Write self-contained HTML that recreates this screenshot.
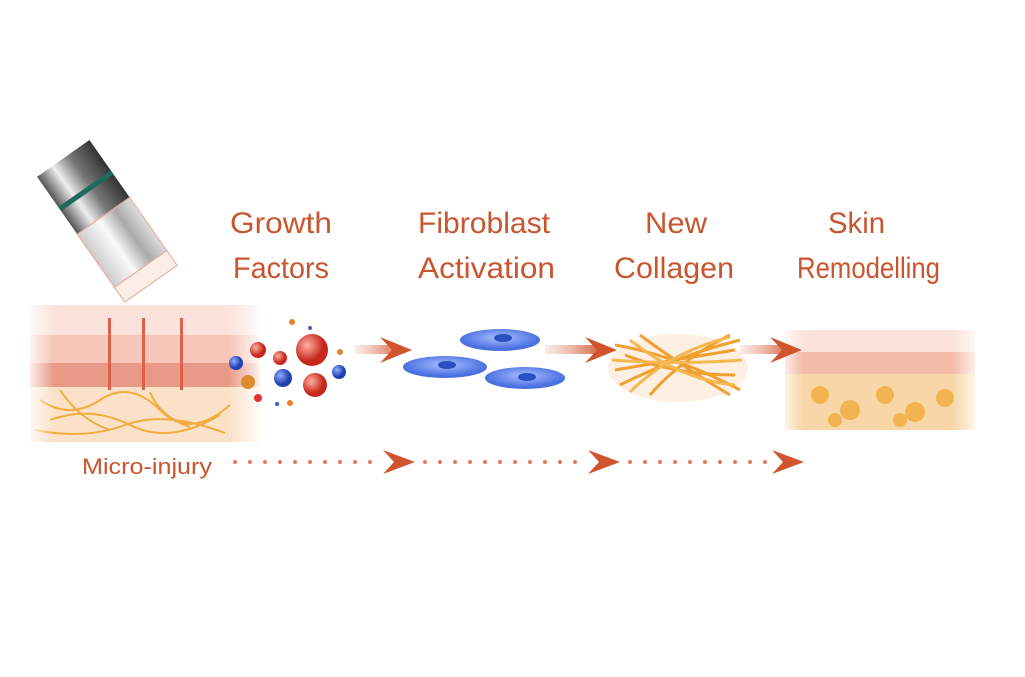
<!DOCTYPE html>
<html><head><meta charset="utf-8"><style>
html,body{margin:0;padding:0;background:#fff;}
svg{display:block;}
text{font-family:"Liberation Sans","DejaVu Sans",sans-serif;fill:#c9552f;}
</style></head><body>
<svg width="1025" height="677" viewBox="0 0 1025 677" xmlns="http://www.w3.org/2000/svg">
<defs>
<linearGradient id="fadeL" x1="0" x2="1"><stop offset="0" stop-color="#fff" stop-opacity="1"/><stop offset="0.12" stop-color="#fff" stop-opacity="0"/><stop offset="0.85" stop-color="#fff" stop-opacity="0"/><stop offset="1" stop-color="#fff" stop-opacity="1"/></linearGradient>
<linearGradient id="arr" x1="0" x2="1"><stop offset="0" stop-color="#e9a090" stop-opacity="0.2"/><stop offset="1" stop-color="#d4653f"/></linearGradient>
<linearGradient id="metal" x1="0" x2="1"><stop offset="0" stop-color="#555"/><stop offset="0.3" stop-color="#eee"/><stop offset="0.6" stop-color="#777"/><stop offset="1" stop-color="#333"/></linearGradient>
<linearGradient id="clear" x1="0" x2="1"><stop offset="0" stop-color="#ccc"/><stop offset="0.4" stop-color="#fafafa"/><stop offset="0.7" stop-color="#aaa"/><stop offset="1" stop-color="#ddd"/></linearGradient>
<radialGradient id="red" cx="0.35" cy="0.35"><stop offset="0" stop-color="#ffb0a0"/><stop offset="1" stop-color="#c8281c"/></radialGradient>
<radialGradient id="blue" cx="0.35" cy="0.35"><stop offset="0" stop-color="#8fb0ff"/><stop offset="1" stop-color="#1f3fb0"/></radialGradient>
<radialGradient id="cell" cx="0.5" cy="0.4"><stop offset="0" stop-color="#a8c0ff"/><stop offset="1" stop-color="#4a6fe0"/></radialGradient>
</defs>

<!-- device -->
<g transform="translate(112,228) rotate(-35)">
<rect x="-32" y="-85" width="64" height="70" fill="url(#metal)"/>
<rect x="-32" y="-48" width="64" height="5" fill="#1f6a5a"/>
<rect x="-32" y="-15" width="64" height="65" fill="url(#clear)" stroke="#e6a898" stroke-width="1"/>
<rect x="-32" y="50" width="64" height="18" fill="#fbeee9" stroke="#e6a898"/>
</g>

<!-- left skin -->
<g>
<rect x="30" y="305" width="230" height="30" fill="#fbe3dc"/>
<rect x="30" y="335" width="230" height="28" fill="#f6c6b8"/>
<rect x="30" y="363" width="230" height="24" fill="#e99a86"/>
<rect x="30" y="387" width="230" height="55" fill="#fbe1c8"/>
<path d="M40 400 q30 20 60 0 t60 10 t70 -5 M50 420 q40 -15 80 5 t90 -10 M35 430 q50 10 90 -5 t100 8 M60 390 q20 30 50 40 M150 392 q10 25 40 35" stroke="#f0ad40" stroke-width="2" fill="none"/>
<g fill="#e0604a"><rect x="108" y="318" width="3" height="72"/><rect x="142" y="318" width="3" height="72"/><rect x="180" y="318" width="3" height="72"/></g>
<rect x="25" y="300" width="240" height="150" fill="url(#fadeL)"/>
</g>
<!-- particles -->
<circle cx="312" cy="350" r="16" fill="url(#red)"/>
<circle cx="315" cy="385" r="12" fill="url(#red)"/>
<circle cx="258" cy="350" r="8" fill="url(#red)"/>
<circle cx="280" cy="358" r="7" fill="url(#red)"/>
<circle cx="236" cy="363" r="7" fill="url(#blue)"/>
<circle cx="283" cy="378" r="9" fill="url(#blue)"/>
<circle cx="339" cy="372" r="7" fill="url(#blue)"/>
<circle cx="248" cy="382" r="7" fill="#e08a30"/>
<circle cx="258" cy="398" r="4" fill="#d33"/>
<circle cx="292" cy="322" r="3" fill="#e8802a"/><circle cx="310" cy="328" r="2" fill="#4060c0"/><circle cx="340" cy="352" r="3" fill="#e8802a"/><circle cx="290" cy="403" r="3" fill="#e8802a"/><circle cx="277" cy="404" r="2" fill="#4060c0"/>

<!-- labels -->
<g font-size="30">
<text x="230" y="233" textLength="102" lengthAdjust="spacingAndGlyphs">Growth</text><text x="233" y="278" textLength="96" lengthAdjust="spacingAndGlyphs">Factors</text>
<text x="418" y="233" textLength="132" lengthAdjust="spacingAndGlyphs">Fibroblast</text><text x="418" y="278" textLength="137" lengthAdjust="spacingAndGlyphs">Activation</text>
<text x="645" y="233" textLength="62" lengthAdjust="spacingAndGlyphs">New</text><text x="614" y="278" textLength="120" lengthAdjust="spacingAndGlyphs">Collagen</text>
<text x="828" y="233" textLength="57" lengthAdjust="spacingAndGlyphs">Skin</text><text x="797" y="278" textLength="143" lengthAdjust="spacingAndGlyphs">Remodelling</text>
</g>

<!-- right skin -->
<g>
<rect x="785" y="330" width="190" height="22" fill="#fbe3dc"/>
<rect x="785" y="352" width="190" height="22" fill="#f4bca8"/>
<rect x="785" y="374" width="190" height="56" fill="#f8d6a8"/>
<g fill="#f2b450"><circle cx="820" cy="395" r="9"/><circle cx="850" cy="410" r="10"/><circle cx="885" cy="395" r="9"/><circle cx="915" cy="412" r="10"/><circle cx="945" cy="398" r="9"/><circle cx="835" cy="420" r="7"/><circle cx="900" cy="420" r="7"/></g>
<rect x="778" y="325" width="205" height="110" fill="url(#fadeL)"/>
</g>

<!-- solid arrows -->
<g fill="url(#arr)">
<rect x="355" y="345" width="45" height="9"/>
<rect x="545" y="345" width="55" height="9"/>
<rect x="740" y="345" width="50" height="9"/>
</g>
<g fill="#d0552c">
<path d="M380 337 L412 350 L380 363 L392 350Z"/>
<path d="M585 337 L617 350 L585 363 L597 350Z"/>
<path d="M770 337 L802 350 L770 363 L782 350Z"/>
</g>

<!-- cells -->
<ellipse cx="500" cy="340" rx="40" ry="11" fill="url(#cell)"/><ellipse cx="503" cy="338" rx="9" ry="4" fill="#2a4fc0"/>
<ellipse cx="445" cy="367" rx="42" ry="11" fill="url(#cell)"/><ellipse cx="447" cy="365" rx="9" ry="4" fill="#2a4fc0"/>
<ellipse cx="525" cy="378" rx="40" ry="11" fill="url(#cell)"/><ellipse cx="527" cy="377" rx="9" ry="4" fill="#2a4fc0"/>

<!-- collagen -->
<ellipse cx="678" cy="368" rx="70" ry="34" fill="#fdf0e2"/>
<g stroke="#f0a030" stroke-width="3" fill="none">
<path d="M615 345 q60 10 125 45"/><path d="M620 385 q60 -30 120 -45"/><path d="M625 355 q50 20 110 20"/><path d="M640 335 q40 30 90 60"/><path d="M615 370 q60 -10 120 -20"/><path d="M650 395 q30 -35 80 -60"/>
<path d="M612 360 q65 5 130 0" stroke="#f5b850"/><path d="M630 340 q50 40 105 45" stroke="#f5b850"/><path d="M630 392 q40 -40 100 -55" stroke="#f5b850"/>
</g>

<!-- micro-injury -->
<text x="82" y="474" font-size="22" textLength="130" lengthAdjust="spacingAndGlyphs">Micro-injury</text>
<g fill="#e07b55">
<circle cx="235" cy="462" r="2"/><circle cx="250" cy="462" r="2"/><circle cx="265" cy="462" r="2"/><circle cx="280" cy="462" r="2"/><circle cx="295" cy="462" r="2"/><circle cx="310" cy="462" r="2"/><circle cx="325" cy="462" r="2"/><circle cx="340" cy="462" r="2"/><circle cx="355" cy="462" r="2"/><circle cx="370" cy="462" r="2"/>
<circle cx="425" cy="462" r="2"/><circle cx="440" cy="462" r="2"/><circle cx="455" cy="462" r="2"/><circle cx="470" cy="462" r="2"/><circle cx="485" cy="462" r="2"/><circle cx="500" cy="462" r="2"/><circle cx="515" cy="462" r="2"/><circle cx="530" cy="462" r="2"/><circle cx="545" cy="462" r="2"/><circle cx="560" cy="462" r="2"/><circle cx="575" cy="462" r="2"/>
<circle cx="630" cy="462" r="2"/><circle cx="645" cy="462" r="2"/><circle cx="660" cy="462" r="2"/><circle cx="675" cy="462" r="2"/><circle cx="690" cy="462" r="2"/><circle cx="705" cy="462" r="2"/><circle cx="720" cy="462" r="2"/><circle cx="735" cy="462" r="2"/><circle cx="750" cy="462" r="2"/><circle cx="765" cy="462" r="2"/>
</g>
<g fill="#d0552c">
<path d="M383 450 L415 462 L383 474 L394 462Z"/>
<path d="M588 450 L620 462 L588 474 L599 462Z"/>
<path d="M772 450 L804 462 L772 474 L783 462Z"/>
</g>
</svg>
</body></html>
